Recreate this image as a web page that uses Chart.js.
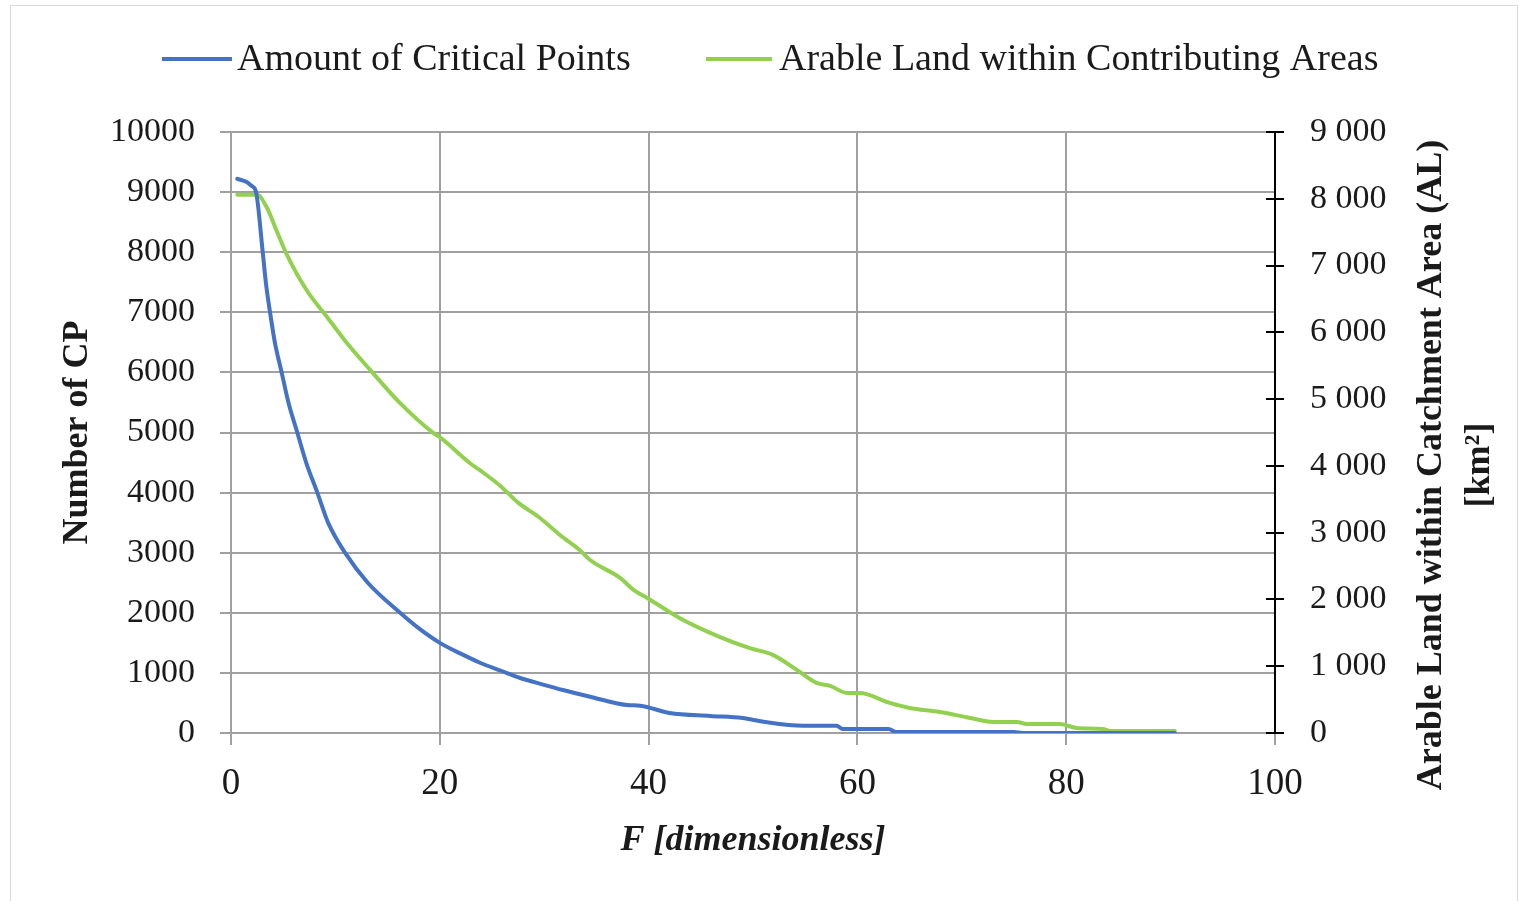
<!DOCTYPE html>
<html>
<head>
<meta charset="utf-8">
<script src="https://cdn.jsdelivr.net/npm/chart.js@4/dist/chart.umd.min.js"></script>
<style>
  html, body { margin: 0; padding: 0; background: #fff; }
  #frame { position: absolute; left: 10px; top: 5px; width: 1506px; height: 900px; border: 1px solid #d9d9d9; }
  #wrap { position: absolute; left: 0; top: 0; width: 1519px; height: 901px; }
</style>
</head>
<body>
<div id="frame"></div>
<div id="wrap"><canvas id="chart" width="1519" height="901"></canvas></div>
<script>
// ---- data ----
const cpF = [0.6, 1.5, 2.0, 2.4, 3.04, 3.35, 3.74, 4.2, 4.85, 5.5, 6.35, 7.2, 8.27, 9.3, 10.92, 13.1,
  16.2, 18.0, 20.0, 22.0, 23.9, 25.8, 27.7, 29.8, 31.8, 34.5, 37.9, 39.2, 42.0, 45.9, 49.0,
  51.0, 54.8, 58.0, 58.6, 63.0, 63.7, 75.0, 75.8, 90.4];
const cpCount = [9220, 9170, 9100, 9000, 8000, 7480, 7000, 6500, 6000, 5500, 5000, 4500, 4000, 3500, 3000, 2500,
  2000, 1740, 1500, 1320, 1165, 1040, 915, 810, 715, 600, 466, 455, 333, 283, 250,
  188, 121, 121, 66, 66, 17, 17, 0, 0];

const alF = [0.6, 2.5, 3.4, 4.4, 5.3, 7.25, 9.2, 11.1, 13.6, 16.2, 19.4, 20.0, 22.9, 23.8, 25.8, 27.5,
  29.6, 31.5, 33.4, 34.4, 37.3, 38.5, 40.1, 43.0, 46.8, 49.7, 51.9, 54.2, 56.1, 57.4,
  59.0, 60.2, 63.1, 65.0, 67.9, 70.8, 73.0, 75.3, 76.2, 79.4, 81.0, 83.5, 84.2, 90.4];
const alArea = [8060, 8060, 7880, 7510, 7180, 6630, 6230, 5840, 5390, 4940, 4490, 4430, 4040, 3940, 3700, 3450,
  3220, 2965, 2740, 2590, 2320, 2150, 2000, 1720, 1440, 1270, 1170, 945, 750, 705,
  600, 600, 450, 375, 315, 225, 165, 165, 135, 135, 75, 60, 30, 30];

const xTicks = [0, 20, 40, 60, 80, 100];
const seriesNames = ['Amount of Critical Points', 'Arable Land within Contributing Areas'];
const seriesColors = ['#4472c4', '#92d050'];
const rightTitle = ['Arable Land within Catchment Area (AL)', '[km\u00b2]'];

const serif = "'Liberation Serif', 'Times New Roman', serif";
const gridGrey = '#a0a0a0';
const textCol = '#1a1a1a';

function pts(xs, ys) {
    return xs.map((x, i) => ({ x, y: ys[i] }));
}

function spaced(v) {
    return String(v).replace(/\B(?=(\d{3})+(?!\d))/g, ' ');
}

// legend + right title + crossing ticks on the right axis
const extras = {
    id: 'extras',
    afterDraw(chart) {
        const ctx = chart.ctx;
        const y1 = chart.scales.y1;
        const area = chart.chartArea;

        ctx.save();
        ctx.strokeStyle = '#000';
        ctx.lineWidth = 2;
        y1.ticks.forEach(t => {
            const py = Math.round(y1.getPixelForValue(t.value));
            ctx.beginPath();
            ctx.moveTo(area.right - 9, py);
            ctx.lineTo(area.right, py);
            ctx.stroke();
        });

        // legend
        const legendPos = [[162, 232, 237], [706, 772, 779]];
        ctx.font = '38px ' + serif;
        ctx.textBaseline = 'middle';
        ctx.textAlign = 'left';
        ctx.fillStyle = textCol;
        chart.data.datasets.forEach((ds, i) => {
            const p = legendPos[i];
            ctx.strokeStyle = ds.borderColor;
            ctx.lineWidth = 4;
            ctx.beginPath();
            ctx.moveTo(p[0], 59);
            ctx.lineTo(p[1], 59);
            ctx.stroke();
            ctx.fillText(ds.label, p[2], 60);
        });

        // right axis title, reading bottom to top
        ctx.font = 'bold 36px ' + serif;
        ctx.textAlign = 'center';
        const lineX = [1432, 1480];
        rightTitle.forEach((txt, i) => {
            ctx.save();
            ctx.translate(lineX[i], 465);
            ctx.rotate(-Math.PI / 2);
            ctx.fillText(txt, 0, 0);
            ctx.restore();
        });
        ctx.restore();
    }
};

const lineStyle = {
    showLine: true,
    borderWidth: 4,
    pointRadius: 0,
    cubicInterpolationMode: 'monotone',
    borderJoinStyle: 'round',
    borderCapStyle: 'round'
};

new Chart(document.getElementById('chart'), {
    type: 'scatter',
    data: {
        datasets: [
            Object.assign({
                label: seriesNames[0],
                data: pts(cpF, cpCount),
                yAxisID: 'y',
                borderColor: seriesColors[0],
                backgroundColor: seriesColors[0]
            }, lineStyle),
            Object.assign({
                label: seriesNames[1],
                data: pts(alF, alArea),
                yAxisID: 'y1',
                borderColor: seriesColors[1],
                backgroundColor: seriesColors[1]
            }, lineStyle)
        ]
    },
    options: {
        responsive: false,
        animation: false,
        layout: { padding: { top: 132, left: 0, right: 0, bottom: 0 } },
        plugins: {
            legend: { display: false },
            tooltip: { enabled: false }
        },
        scales: {
            x: {
                type: 'linear',
                min: 0,
                max: 100,
                afterBuildTicks: s => { s.ticks = xTicks.map(v => ({ value: v })); },
                afterFit: s => { s.height = 168; },
                grid: { color: gridGrey, lineWidth: 2, tickLength: 12, tickColor: gridGrey },
                border: { color: gridGrey, width: 2 },
                ticks: { color: textCol, padding: 17, font: { family: serif, size: 37 } },
                title: {
                    display: true,
                    text: 'F [dimensionless]',
                    color: textCol,
                    padding: { top: 0, bottom: 39 },
                    font: { family: serif, size: 36, weight: 'bold', style: 'italic' }
                }
            },
            y: {
                position: 'left',
                min: 0,
                max: 10000,
                afterFit: s => { s.width = 231; },
                grid: { color: gridGrey, lineWidth: 2, tickLength: 11, tickColor: gridGrey },
                border: { color: gridGrey, width: 2 },
                ticks: {
                    stepSize: 1000,
                    color: textCol,
                    padding: 25,
                    font: { family: serif, size: 34 },
                    callback: v => String(v)
                },
                title: {
                    display: true,
                    text: 'Number of CP',
                    color: textCol,
                    padding: { top: 56, bottom: 0 },
                    font: { family: serif, size: 36, weight: 'bold' }
                }
            },
            y1: {
                position: 'right',
                min: 0,
                max: 9000,
                afterFit: s => { s.width = 244; },
                grid: { drawOnChartArea: false, lineWidth: 2, tickLength: 9, tickColor: '#000' },
                border: { color: '#000', width: 2 },
                ticks: {
                    stepSize: 1000,
                    color: textCol,
                    padding: 26,
                    font: { family: serif, size: 34 },
                    callback: v => spaced(v)
                }
            }
        }
    },
    plugins: [extras]
});
</script>
</body>
</html>
